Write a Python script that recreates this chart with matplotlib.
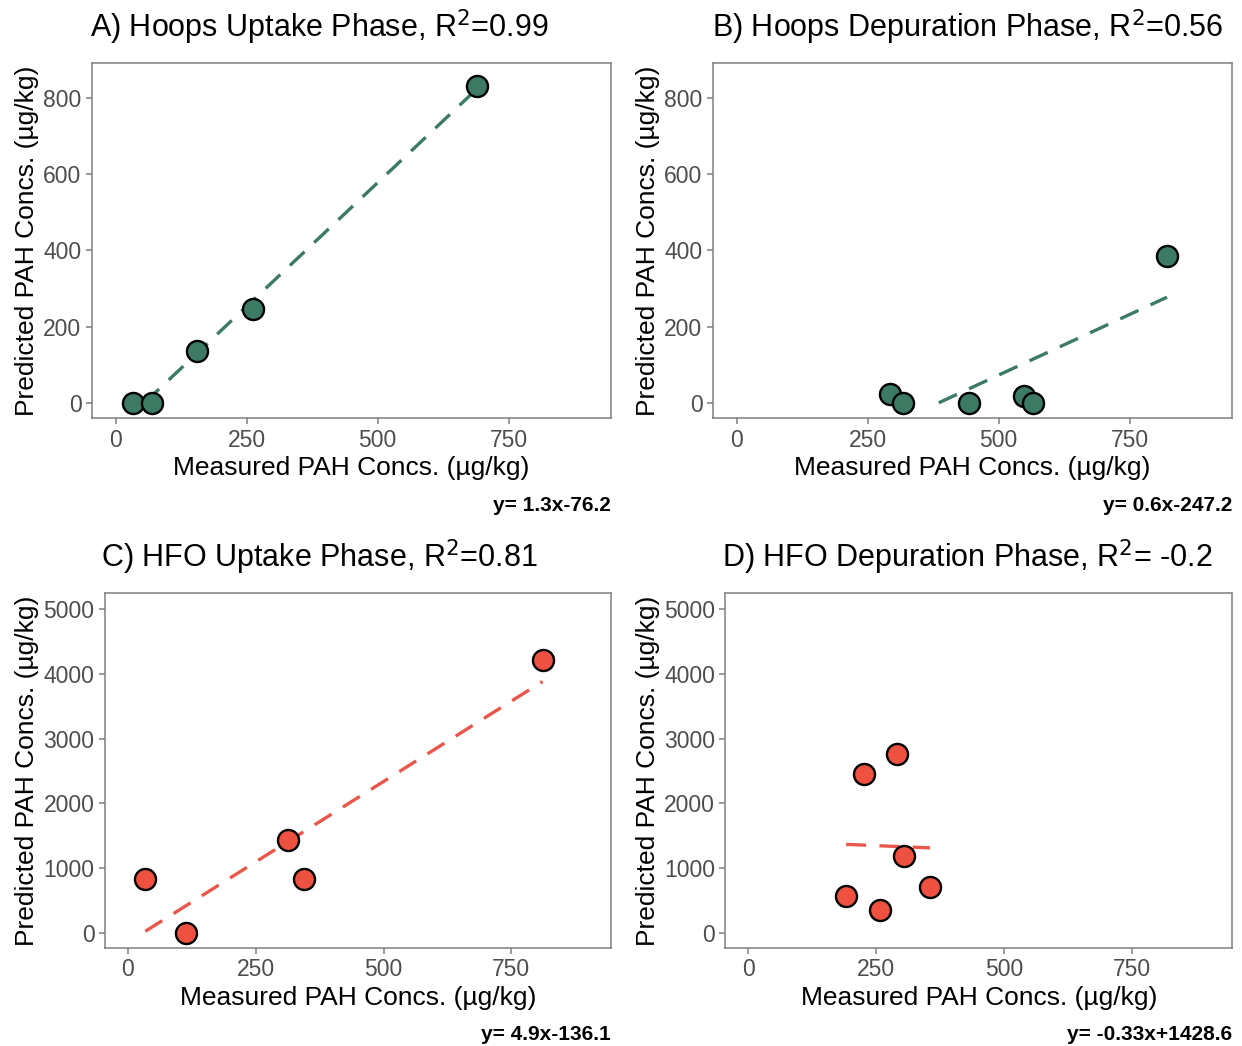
import matplotlib
matplotlib.use("Agg")
import numpy as np
import matplotlib.pyplot as plt

plt.rcParams['font.family'] = ['Liberation Sans', 'DejaVu Sans']

# - data (measured vs predicted PAH, ug/kg)
hoops_up_x = [34, 70, 155, 263, 689]
hoops_up_y = [0, 0, 136, 247, 832]
hoops_dep_x = [292, 317, 443, 548, 565, 821]
hoops_dep_y = [24, 0, 0, 18, 0, 386]
hfo_up_x = [34, 113, 314, 345, 811]
hfo_up_y = [833, 0, 1435, 833, 4213]
hfo_dep_x = [191, 225, 257, 290, 305, 355]
hfo_dep_y = [564, 2456, 359, 2760, 1196, 718]

titles = ["A) Hoops Uptake Phase, R$^2$=0.99", "B) Hoops Depuration Phase, R$^2$=0.56",
          "C) HFO Uptake Phase, R$^2$=0.81", "D) HFO Depuration Phase, R$^2$= -0.2"]
equations = ["y= 1.3x-76.2", "y= 0.6x-247.2", "y= 4.9x-136.1", "y= -0.33x+1428.6"]

green = "#3D7A63"
red = "#EF5140"
red_line = "#E8574A"

panels = [
    (hoops_up_x, hoops_up_y, green, green, [0.074, 0.600, 0.418, 0.340], (-41, 893), [0, 200, 400, 600, 800], 0.257, 0.974),
    (hoops_dep_x, hoops_dep_y, green, green, [0.574, 0.600, 0.418, 0.340], (-41, 893), [0, 200, 400, 600, 800], 0.779, 0.974),
    (hfo_up_x, hfo_up_y, red, red_line, [0.0845, 0.0937, 0.4075, 0.3393], (-231, 5247), [0, 1000, 2000, 3000, 4000, 5000], 0.257, 0.467),
    (hfo_dep_x, hfo_dep_y, red, red_line, [0.584, 0.0937, 0.408, 0.3393], (-231, 5247), [0, 1000, 2000, 3000, 4000, 5000], 0.779, 0.467),
]

fig = plt.figure(figsize=(12.42, 10.46), dpi=100)

for i, (xs, ys, fc, lc, pos, ylim, yt, tx, ty) in enumerate(panels):
    ax = fig.add_axes(pos)
    xs = np.array(xs, float)
    ys = np.array(ys, float)
    # - lm fit, drawn only where the fit is >= 0 (as in the original)
    m, b = np.polyfit(xs, ys, 1)
    x0 = xs.min()
    if m > 0 and -b / m > x0:
        x0 = -b / m
    xl = np.linspace(x0, xs.max(), 50)
    ax.plot(xl, m * xl + b, color=lc, lw=2.4, dashes=(6, 4), zorder=2)
    ax.scatter(xs, ys, s=230, c=fc, edgecolors="black", linewidths=1.7, zorder=3)
    ax.set_xlim(-45, 945)
    ax.set_ylim(*ylim)
    ax.set_xticks([0, 250, 500, 750])
    ax.set_yticks(yt)
    ax.tick_params(colors="#7F7F7F", labelcolor="#4D4D4D", labelsize=16.5, length=4, width=1.1)
    for sp in ax.spines.values():
        sp.set_color("#7F7F7F")
        sp.set_linewidth(1.1)
    ax.set_xlabel("Measured PAH Concs. (µg/kg)", fontsize=19, labelpad=3)
    ax.set_ylabel("Predicted PAH Concs. (µg/kg)", fontsize=19, labelpad=3)
    fig.text(tx, ty, titles[i], fontsize=22, ha="center", va="center")
    ax.text(1.0, -0.245, equations[i], transform=ax.transAxes, ha="right", va="center",
            fontsize=15, fontweight="bold")

plt.savefig("out.png", dpi=100)
